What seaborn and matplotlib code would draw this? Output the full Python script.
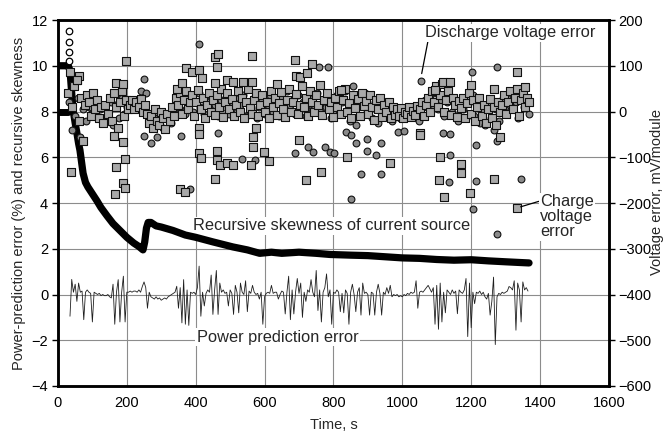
import numpy as np
import pandas as pd
import matplotlib
matplotlib.use("Agg")
import matplotlib.pyplot as plt
import seaborn as sns

sns.set_style("white")
plt.rcParams['font.family'] = ['Liberation Sans', 'DejaVu Sans']

# ---------------- data ----------------
# recursive skewness of current source (left axis)
skew_t = [0, 10, 20, 30, 35, 38, 41, 44, 50, 55, 60, 64, 73, 80, 87, 100, 113, 125, 142, 160, 180,
          200, 220, 235, 247, 252, 257, 262, 270, 285, 300, 334, 370, 400, 450, 508, 550, 586,
          620, 650, 700, 750, 790, 850, 900, 950, 1000, 1050, 1100, 1150, 1200, 1250, 1300,
          1340, 1368]
skew_v = [10, 10, 10, 10, 9.8, 9.2, 8.6, 8.07, 7.5, 7.06, 6.6, 6.3, 5.3, 4.9, 4.7, 4.4, 4.1, 3.8,
          3.45, 3.1, 2.8, 2.5, 2.25, 2.1, 1.95, 2.3, 2.9, 3.15, 3.15, 3.0, 2.95, 2.8, 2.6, 2.5,
          2.3, 2.08, 1.95, 1.8, 1.85, 1.8, 1.85, 1.8, 1.75, 1.72, 1.7, 1.65, 1.6, 1.58, 1.53,
          1.5, 1.52, 1.47, 1.43, 1.4, 1.38]
skew_open_t = [32, 32, 33, 33]
skew_open_v = [11.5, 11.05, 10.6, 10.2]

# power prediction error, % (left axis), sampled every 5 s from 35 s to 1365 s
power_t = list(range(35, 1366, 5))
power_v = [
    -0.95, 0.66, 0.1, 0.45, -0.3, 0.5, 0.1, 0.15, -1.1, 0.1,
    0.2, 0.1, 0.05, -1.2, 0.1, 0.05, 0.0, 0.05, -0.05, 0.0,
    -0.05, -0.05, 0.0, -0.1, -0.15, 0.45, -1.3, 0.1, 0.65, -1.2,
    0.1, 0.8, -1.2, 0.1, 0.1, 0.15, 0.1, 0.15, 0.15, 0.1,
    0.2, 0.1, 0.35, 0.55, 0.3, -0.6, 0.1, -0.1, -0.15, -0.2,
    -0.1, -0.2, -0.15, -0.25, -0.2, -0.15, -0.2, -0.1, -0.05, 0.0,
    0.05, 0.1, 0.36, -0.6, 0.3, -1.24, 0.65, -1.3, 0.2, -1.35,
    0.1, 0.05, 0.1, 0.0, 0.3, 1.24, -0.95, 0.1, -0.5, 0.05,
    0.2, 0.1, 0.85, -0.87, 0.2, 1.05, -0.87, 0.5, 0.1, 0.2,
    0.05, 0.1, -0.5, 0.2, 0.05, -0.87, 0.4, 0.1, -0.8, 0.5,
    0.1, 0.0, 0.6, -0.75, 0.15, 0.05, 0.4, 0.1, 0.0, 0.05,
    -0.2, 0.1, -1.3, -0.1, 0.05, 0.1, 0.05, 0.4, 0.05, 0.1,
    0.1, -0.2, 0.0, 0.15, 0.1, -0.85, 0.1, 0.8, -1.1, 0.2,
    -0.85, 0.1, 0.7, 0.05, 0.5, -1.0, 0.1, -0.3, 0.2, 0.1,
    0.65, 0.1, -0.1, 1.05, -0.7, 0.2, -1.2, 0.1, 0.3, 0.9,
    -0.1, 0.2, -1.3, 0.1, 0.05, 0.2, 0.1, -0.75, 0.05, -0.8,
    0.2, 0.05, -1.3, 0.1, 0.45, 0.0, -0.75, 0.1, 0.3, -0.9,
    0.5, 0.05, 0.1, 0.0, -0.9, 0.1, 0.05, -0.9, 0.1, 0.45,
    0.05, -0.9, 0.1, 0.0, 0.3, 0.05, 0.4, -0.1, 0.0, -0.05,
    0.0, -0.1, -0.05, -0.1, 0.0, -0.05, 0.05, 0.0, 0.1, 0.05,
    0.1, 0.6, -0.6, 0.1, 0.15, 0.1, 0.2, 0.3, 0.4, 0.25,
    0.1, 0.3, -1.3, 0.4, -1.52, 0.5, -1.2, 0.1, -0.8, 0.2,
    0.1, 0.0, 0.2, 0.05, 0.15, -0.84, 0.2, 0.1, 0.05, 0.2,
    0.7, -1.84, 0.5, -1.45, 0.1, -0.4, 0.1, 0.05, 0.15, 0.0,
    0.1, -0.1, -0.2, 0.05, -0.9, -0.3, 0.76, -2.19, -0.1, 0.05,
    0.0, 0.1, 0.05, 0.1, 0.15, 0.35, 0.3, 0.2, 0.6, -1.56,
    0.5, 0.2, -1.2, 0.55, 0.2, 0.3, 0.15,
]

# discharge voltage error, mV/module (right axis) - squares
dis_t = list(range(30, 1369, 6)) + [
    38, 61, 55, 168, 189, 197, 163, 189, 168, 195, 189, 195, 165, 354, 369, 345, 360, 372,
    389, 409, 418, 409, 409, 409, 415, 456, 464, 461, 456, 461, 461, 470, 456, 490, 508,
    537, 563, 563, 490, 508, 560, 566, 566, 575, 612, 598, 636, 688, 691, 702, 723, 700,
    720, 737, 763, 822, 839, 964, 1051, 1051, 1094, 1117, 1138, 1109, 1106, 1170, 1170,
    1120, 1196, 1199, 1266, 1266, 1332, 1332, 1356, 1283]
dis_v = [
    40, 86, 10, 55, 68, -20, 30, -65, 15, 35,
    20, -10, 40, 5, 25, -15, 10, -25, 15, -5,
    30, -20, 40, 10, -35, 20, 45, -10, 25, 5,
    15, 25, 5, 20, 10, 28, 0, 15, -5, -25,
    -10, -35, 5, -20, -30, 0, -15, -38, -5, -20,
    10, -10, 30, 15, 40, -5, 25, 45, 5, 20,
    35, -10, 20, 48, 5, 30, -15, 15, 40, 0,
    25, -8, 35, 10, 50, -12, 20, 40, 5, 28,
    -10, 15, 45, 0, 30, -15, 20, 50, 8, -5,
    25, 40, -10, 15, 35, 0, 20, -15, 45, 10,
    30, -8, 18, 42, 5, -12, 25, 50, 0, 20,
    38, -5, 15, 55, 10, 30, -10, 45, 20, 0,
    35, 15, 58, -8, 25, 40, 5, 20, -12, 30,
    10, 45, -5, 25, 50, 0, 18, -15, 35, 8,
    28, -10, 40, 12, 22, -5, 35, 10, -18, 25,
    5, 30, -12, 15, 0, 20, -15, 10, -8, 5,
    -10, 8, -15, 0, -5, 10, -12, 2, -8, 12,
    5, 20, -10, 15, 30, 0, 45, 20, 55, 10,
    35, 60, 0, 25, 45, -8, 30, 15, -12, 22,
    8, 30, -15, 18, 40, -5, 25, -20, 10, 30,
    -10, 15, -25, 5, 28, -15, 10, -30, 20, 0,
    15, 35, -5, 20, 45, 5, 30, 50, -10, 25,
    40, 10, 30, 20,
] + [
    -132, 78, 68, 62, 60, 110, -53, -66, -121, -104, -156, -167, -180, -170, -175, 50, 62, 95,
    86, 90, 73, -36, -50, -90, -102, 119, 126, 98, 62, -87, -106, -117, -148, 68, 64,
    64, 64, 121, -113, -117, -117, -78, -55, -35, -108, -89, 60, 112, 78, 75, 84, -62,
    -150, 104, -132, 47, -100, -113, -47, -52, 47, 64, 64, -100, -150, -115, -134,
    -187, -178, 58, 50, -148, 86, -211, 54, -56]

# charge voltage error, mV/module (right axis) - circles
chg_t = list(range(33, 1370, 8)) + [
    250, 270, 287, 357, 383, 409, 464, 534, 572, 688, 726, 740, 758, 784, 775, 790, 801,
    836, 851, 865, 897, 897, 923, 937, 880, 937, 851, 987, 1004, 1054, 1202, 1274, 1138,
    1117, 1138, 1135, 1122, 1205, 1213, 1344, 1213, 1274, 1205, 856, 891, 1274]
chg_v = [
    20, -40, -10, 30, -55, 5, -20, 10, -5, 15,
    -10, 5, -20, 10, -5, 20, -30, 15, -15, 30,
    -5, 10, 20, 5, 15, 25, 45, 70, 40, -20,
    -30, 0, -25, -10, -35, -15, -5, -25, 10, 20,
    5, 30, -5, 15, 25, 0, 20, 40, 10, -5,
    20, 35, 5, 15, -10, 25, 10, 40, -5, 20,
    30, 0, 15, 35, -10, 20, 5, 30, -15, 10,
    25, -5, 15, 35, 0, 20, -10, 30, 10, 45,
    15, 25, -5, 35, 10, 20, -10, 30, 5, 15,
    40, 0, 20, 10, 30, -15, 15, 35, -5, 20,
    45, 5, -20, 25, -30, 15, -10, 30, 0, 10,
    -15, 20, -25, 5, 15, -10, 0, -20, 5, -10,
    -15, 0, -8, 5, -12, 0, -5, -20, 10, 25,
    10, 30, 15, 40, 5, 25, -10, 20, 35, 0,
    15, -20, 25, 5, -15, 20, 35, -10, 10, -25,
    0, -30, 15, -15, -40, 5, -20, 25, 10, 30,
    15, 40, 20, -15, 35, 10, 25, -5,
] + [
    -53, -69, -56, -53, -170, 148, -47, -104, -106, -90, -78, -89, 98, 98, -78, -89, -90,
    -45, -52, -69, -60, -87, -95, -69, -136, -136, -192, -45, -43, 67, 86, 97, -95,
    -47, -50, -154, -187, -213, -152, -148, -73, -64, 36, 56, 40, -268]

# initial zero-error segment of the voltage trace
v_init_t = [0, 28]
v_init_v = [0, 0]

x_ticks = [0, 200, 400, 600, 800, 1000, 1200, 1400, 1600]
y_ticks = [-4, -2, 0, 2, 4, 6, 8, 10, 12]
y2_ticks = [-600, -500, -400, -300, -200, -100, 0, 100, 200]

# ---------------- figure ----------------
fig = plt.figure(figsize=(6.66, 4.34), dpi=100)
ax = fig.add_axes([0.087, 0.1106, 0.8273, 0.8433])
ax2 = ax.twinx()

FS = 10.5
AFS = 11.8
ax.set_xlim(0, 1600)
ax.set_ylim(-4, 12)
ax2.set_ylim(-600, 200)
ax.set_xticks(x_ticks)
ax.set_yticks(y_ticks)
ax2.set_yticks(y2_ticks)
ax.grid(True, color='#8c8c8c', lw=0.8, zorder=0)
ax.set_axisbelow(True)

box = dict(facecolor='white', edgecolor='none', pad=1.0)
# annotation texts on the lower axes, above the grid but below the data
ax.text(392, 3.0, 'Recursive skewness of current source', fontsize=AFS,
        ha='left', va='center', bbox=box, zorder=2)
ax.text(403, -1.86, 'Power prediction error', fontsize=AFS,
        ha='left', va='center', bbox=box, zorder=2)

# power prediction error
sns.lineplot(x=power_t, y=power_v, ax=ax, color='#1e1e1e', lw=0.6, sort=False,
             estimator=None, zorder=3)
# recursive skewness
sns.lineplot(x=skew_t, y=skew_v, ax=ax, color='black', lw=5.2, sort=False,
             estimator=None, zorder=4, solid_capstyle='round', solid_joinstyle='round')
sns.scatterplot(x=skew_open_t, y=skew_open_v, ax=ax, marker='o', s=22,
                facecolor='white', edgecolor='black', linewidth=0.9, zorder=4)

# voltage errors
sns.lineplot(x=v_init_t, y=v_init_v, ax=ax2, color='black', lw=5, sort=False,
             estimator=None, zorder=3)
sns.scatterplot(x=chg_t, y=chg_v, ax=ax2, marker='o', s=24, color='#8a8a8a',
                edgecolor='#111111', linewidth=0.8, zorder=3)
sns.scatterplot(x=dis_t, y=dis_v, ax=ax2, marker='s', s=27, color='#a9a9a9',
                edgecolor='#111111', linewidth=0.8, zorder=3)

# spines / ticks
for a in (ax, ax2):
    for sp in a.spines.values():
        sp.set_linewidth(1.8)
        sp.set_color('black')
ax.tick_params(axis='both', direction='out', length=4, width=1, labelsize=FS, pad=3,
               colors='black')
ax2.tick_params(axis='y', direction='out', length=4, width=1, labelsize=FS, pad=3,
                colors='black')
ax.set_xlabel('Time, s', fontsize=FS, labelpad=6)
ax.set_ylabel('Power-prediction error (%) and recursive skewness', fontsize=FS, labelpad=4)
ax2.set_ylabel('Voltage error, mV/module', fontsize=FS, rotation=90)
ax2.yaxis.set_label_coords(1.074, 0.53)

ax2.annotate('Discharge voltage error', xy=(1054, 74), xytext=(1065, 172),
             fontsize=AFS, ha='left', va='center', bbox=box, zorder=6,
             arrowprops=dict(arrowstyle='-', color='black', lw=0.9, relpos=(0.02, 0.0),
                             shrinkA=0, shrinkB=3))
ax2.annotate('Charge\nvoltage\nerror', xy=(1332, -211), xytext=(1400, -230),
             fontsize=AFS, ha='left', va='center', bbox=box, zorder=6, linespacing=1.0,
             arrowprops=dict(arrowstyle='-', color='black', lw=0.9, relpos=(0.0, 0.85),
                             shrinkA=0, shrinkB=3))

fig.savefig('out.png', dpi=100)
